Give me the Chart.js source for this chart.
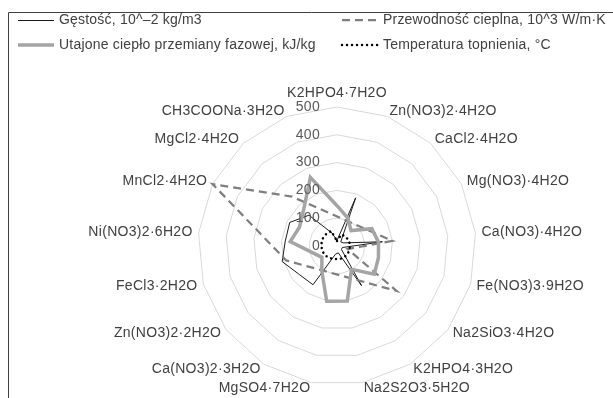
<!DOCTYPE html>
<html>
<head>
<meta charset="utf-8">
<script src="https://cdn.jsdelivr.net/npm/chart.js@4/dist/chart.umd.min.js"></script>
<style>
  html, body { margin: 0; padding: 0; background: #ffffff; }
  #wrap { position: relative; width: 613px; height: 398px; }
</style>
</head>
<body>
<div id="wrap"><canvas id="chart" width="613" height="398"></canvas></div>
<script>
// Salt hydrates (phase change materials), clockwise from the top
const categories = [
  'K2HPO4·7H2O', 'Zn(NO3)2·4H2O', 'CaCl2·4H2O', 'Mg(NO3)·4H2O', 'Ca(NO3)·4H2O',
  'Fe(NO3)3·9H2O', 'Na2SiO3·4H2O', 'K2HPO4·3H2O', 'Na2S2O3·5H2O', 'MgSO4·7H2O',
  'Ca(NO3)2·3H2O', 'Zn(NO3)2·2H2O', 'FeCl3·2H2O', 'Ni(NO3)2·6H2O', 'MnCl2·4H2O',
  'MgCl2·4H2O', 'CH3COONa·3H2O'
];

const seriesNames = [
  'Gęstość, 10^–2 kg/m3',
  'Przewodność cieplna, 10^3 W/m·K',
  'Utajone ciepło przemiany fazowej, kJ/kg',
  'Temperatura topnienia, °C'
];

// density
const density = [20, 186, 20, 25, 164, 20, 20, 168, 25, 30, 164, 170, 205, 187, 190, 150, 50];
// thermal conductivity (null = no data, line is carried across)
const conductivity = [null, null, null, null, 200, 40, 268, null, null, null, null, null, 190, null, 500, 240, null];
// latent heat of fusion
const latentHeat = [145, 108, 75, 140, 150, 155, 168, 99, 201, 202, 104, 68, 90, 169, 151, 178, 265];
// melting point
const meltingPoint = [18, 45, 45, 47, 47, 47, 48, 48, 48, 48, 51, 55, 56, 57, 58, 58, 58];

const tickValues = [0, 100, 200, 300, 400, 500];

const FONT = "'Liberation Sans', Arial, sans-serif";
const TEXT = '#404040';

// Category labels, radial axis labels, legend and frame
const decorations = {
  id: 'decorations',
  afterDraw(chart) {
    const ctx = chart.ctx;
    const s = chart.scales.r;
    ctx.save();

    // category labels around the web
    ctx.font = '14px ' + FONT;
    ctx.letterSpacing = '0.3px';
    ctx.fillStyle = TEXT;
    ctx.textBaseline = 'middle';
    chart.data.labels.forEach((lab, i) => {
      const sin = Math.sin(s.getIndexAngle(i));
      const top = Math.abs(sin) < 0.01;
      const p = s.getPointPosition(i, s.drawingArea + (top ? 14 : 6));
      ctx.textAlign = top ? 'center' : (sin > 0 ? 'left' : 'right');
      ctx.fillText(lab, p.x, p.y);
    });

    // value axis labels, left of the vertical axis
    ctx.fillStyle = '#595959';
    ctx.textAlign = 'right';
    tickValues.forEach(v => {
      const y = s.yCenter - s.getDistanceFromCenterForValue(v);
      ctx.fillText(String(v), s.xCenter - 17, y);
    });

    // legend (two columns, two rows)
    const ds = chart.data.datasets;
    const slots = [
      { x: 18, y: 20 }, { x: 342, y: 20 },
      { x: 18, y: 45 }, { x: 342, y: 45 }
    ];
    ctx.font = '14px ' + FONT;
    ctx.letterSpacing = '0.2px';
    ctx.textAlign = 'left';
    ds.forEach((d, i) => {
      const { x, y } = slots[i];
      const ly = d.borderWidth <= 1 ? y + 0.5 : y;
      ctx.save();
      ctx.strokeStyle = d.borderColor;
      ctx.lineWidth = d.borderWidth;
      ctx.setLineDash(d.borderDash || []);
      ctx.lineCap = d.borderCapStyle || 'butt';
      ctx.beginPath();
      ctx.moveTo(x, ly);
      ctx.lineTo(x + 36, ly);
      ctx.stroke();
      ctx.restore();
      ctx.fillStyle = TEXT;
      ctx.fillText(d.label, x + 41, y);
    });

    // outer frame
    ctx.strokeStyle = '#404040';
    ctx.lineWidth = 1;
    ctx.beginPath();
    ctx.moveTo(8.5, 400);
    ctx.lineTo(8.5, 12.5);
    ctx.lineTo(615, 12.5);
    ctx.stroke();

    ctx.restore();
  }
};

new Chart(document.getElementById('chart'), {
  type: 'radar',
  data: {
    labels: categories,
    datasets: [
      { label: seriesNames[0], data: density, borderColor: '#1a1a1a', borderWidth: 1, order: 4 },
      { label: seriesNames[1], data: conductivity, borderColor: '#7f7f7f', borderWidth: 2.25, borderDash: [8, 5], spanGaps: true, order: 3 },
      { label: seriesNames[2], data: latentHeat, borderColor: '#a5a5a5', borderWidth: 3.5, order: 2 },
      { label: seriesNames[3], data: meltingPoint, borderColor: '#000000', borderWidth: 2.5, borderDash: [0.01, 5], borderCapStyle: 'round', order: 1 }
    ]
  },
  options: {
    responsive: false,
    animation: false,
    layout: { padding: { left: 198, right: 137, top: 107, bottom: 13 } },
    plugins: { legend: { display: false }, tooltip: { enabled: false } },
    elements: {
      line: { tension: 0, fill: false, borderJoinStyle: 'miter' },
      point: { radius: 0, hitRadius: 0, hoverRadius: 0 }
    },
    scales: {
      r: {
        min: 0,
        max: 500,
        ticks: { stepSize: 100, display: false },
        grid: { color: '#d9d9d9', lineWidth: 1 },
        angleLines: { display: false },
        pointLabels: { display: false }
      }
    }
  },
  plugins: [decorations]
});
</script>
</body>
</html>
